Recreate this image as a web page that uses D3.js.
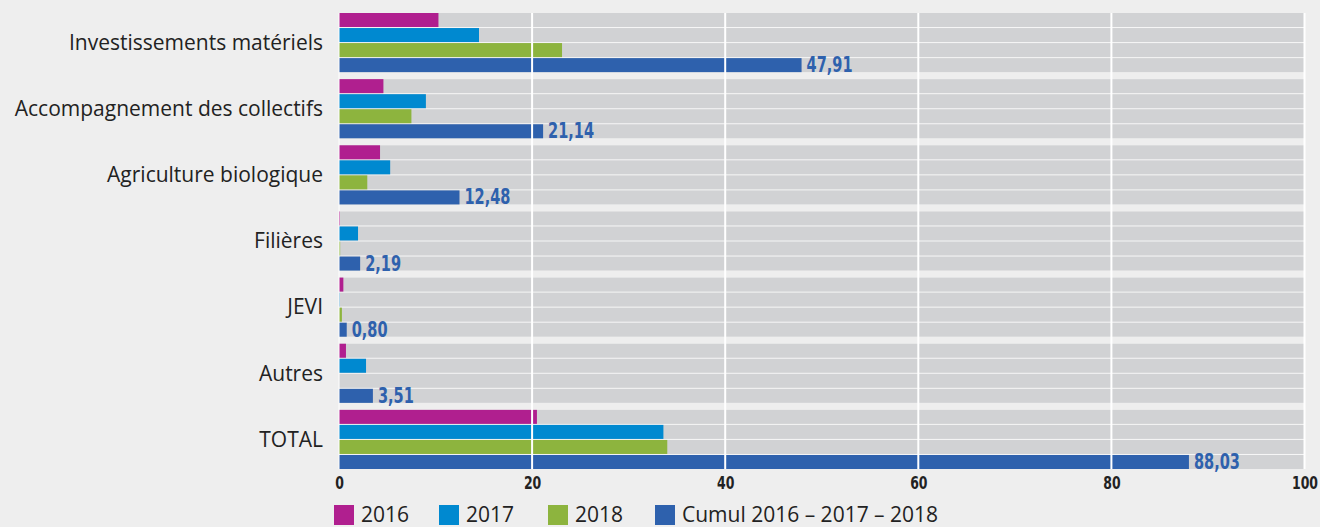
<!DOCTYPE html>
<html>
<head>
<meta charset="utf-8">
<script src="https://cdn.jsdelivr.net/npm/d3@7"></script>
<style>
  html, body { margin: 0; padding: 0; background: #eeeeee; }
  svg { display: block; }
</style>
</head>
<body>
<div id="chart"></div>
<script>
// données
var categories = ['Investissements matériels', 'Accompagnement des collectifs', 'Agriculture biologique', 'Filières', 'JEVI', 'Autres', 'TOTAL'];
var seriesNames = ['2016', '2017', '2018', 'Cumul 2016 – 2017 – 2018'];
var values2016 = [10.3, 4.6, 4.25, 0.1, 0.45, 0.72, 20.5];
var values2017 = [14.5, 9.0, 5.3, 1.97, 0.05, 2.8, 33.6];
var values2018 = [23.1, 7.5, 2.93, 0.12, 0.3, 0, 34.0];
var valuesCumul = [47.91, 21.14, 12.48, 2.19, 0.80, 3.51, 88.03];
var cumulLabels = ['47,91', '21,14', '12,48', '2,19', '0,80', '3,51', '88,03'];
var tickValues = [0, 20, 40, 60, 80, 100];

var colors = ['#b01f8f', '#0089d0', '#8db43e', '#2e61ad'];
var narrow = "'Liberation Sans Narrow', 'DejaVu Sans Condensed', sans-serif";
var normal = "'Open Sans', 'Noto Sans', sans-serif";
var squeeze = 0.77; // les chiffres gras sont très condensés

var width = 1320, height = 527;
var svg = d3.select('#chart').append('svg')
  .attr('width', width)
  .attr('height', height);

var x = d3.scaleLinear().domain([0, 100]).range([339, 1304.5]);
var y = d3.scaleBand().domain(categories).range([13, 469]).paddingInner(0.106).paddingOuter(0);
var ySub = d3.scaleBand().domain(d3.range(4)).range([0, y.bandwidth()]).paddingInner(0.068);

var allSeries = [values2016, values2017, values2018, valuesCumul];

// fonds des groupes
var groups = svg.selectAll('.group')
  .data(categories)
  .enter()
  .append('g')
  .attr('class', 'group')
  .attr('transform', function(d) { return 'translate(0,' + y(d) + ')'; });

groups.append('rect')
  .attr('x', x(0))
  .attr('width', x(100) - x(0))
  .attr('height', y.bandwidth())
  .attr('fill', '#f6f6f6');

groups.selectAll('.row')
  .data(d3.range(4))
  .enter()
  .append('rect')
  .attr('class', 'row')
  .attr('x', x(0))
  .attr('y', function(i) { return ySub(i); })
  .attr('width', x(100) - x(0))
  .attr('height', ySub.bandwidth())
  .attr('fill', '#d1d2d4');

// grille
svg.selectAll('.grid')
  .data(tickValues)
  .enter()
  .append('line')
  .attr('class', 'grid')
  .attr('x1', function(d) { return x(d); })
  .attr('x2', function(d) { return x(d); })
  .attr('y1', y.range()[0])
  .attr('y2', y.range()[1])
  .attr('stroke', '#ffffff')
  .attr('stroke-width', function(d) { return d === 0 ? 1 : 2; });

// barres
groups.each(function(cat, ci) {
  var g = d3.select(this);
  allSeries.forEach(function(vals, si) {
    g.append('rect')
      .attr('x', x(0))
      .attr('y', ySub(si))
      .attr('width', Math.max(0, x(vals[ci]) - x(0)))
      .attr('height', ySub.bandwidth())
      .attr('fill', colors[si]);
  });
  g.append('text')
    .attr('transform', 'translate(' + (x(valuesCumul[ci]) + 5) + ',' + (ySub(3) + ySub.bandwidth()) + ') scale(' + squeeze + ',1)')
    .attr('fill', '#2e61ad')
    .style('font-family', narrow)
    .style('font-weight', 'bold')
    .style('font-size', '21px')
    .text(cumulLabels[ci]);
  g.append('text')
    .attr('x', 323)
    .attr('y', y.bandwidth() / 2)
    .attr('dy', '0.35em')
    .attr('text-anchor', 'end')
    .attr('fill', '#222222')
    .style('font-family', normal)
    .style('font-size', '21px')
    .text(cat);
});

// axe
var axis = svg.append('g')
  .attr('transform', 'translate(0,' + 476 + ')')
  .call(d3.axisBottom(x).tickValues(tickValues).tickSize(0).tickPadding(0).tickFormat(d3.format('d')));
axis.select('.domain').remove();
axis.selectAll('text')
  .attr('y', 0)
  .attr('dy', '0.71em')
  .attr('transform', 'scale(' + squeeze + ',1)')
  .attr('fill', '#222222')
  .style('font-family', narrow)
  .style('font-weight', 'bold')
  .style('font-size', '18px');

// légende
var legendX = [334, 439, 548, 655];
var legend = svg.selectAll('.legend')
  .data(seriesNames)
  .enter()
  .append('g')
  .attr('class', 'legend')
  .attr('transform', function(d, i) { return 'translate(' + legendX[i] + ',505)'; });

legend.append('rect')
  .attr('width', 20)
  .attr('height', 20)
  .attr('fill', function(d, i) { return colors[i]; });

legend.append('text')
  .attr('x', 27)
  .attr('y', 10)
  .attr('dy', '0.35em')
  .attr('fill', '#222222')
  .style('font-family', normal)
  .style('font-size', '21px')
  .text(function(d) { return d; });
</script>
</body>
</html>
